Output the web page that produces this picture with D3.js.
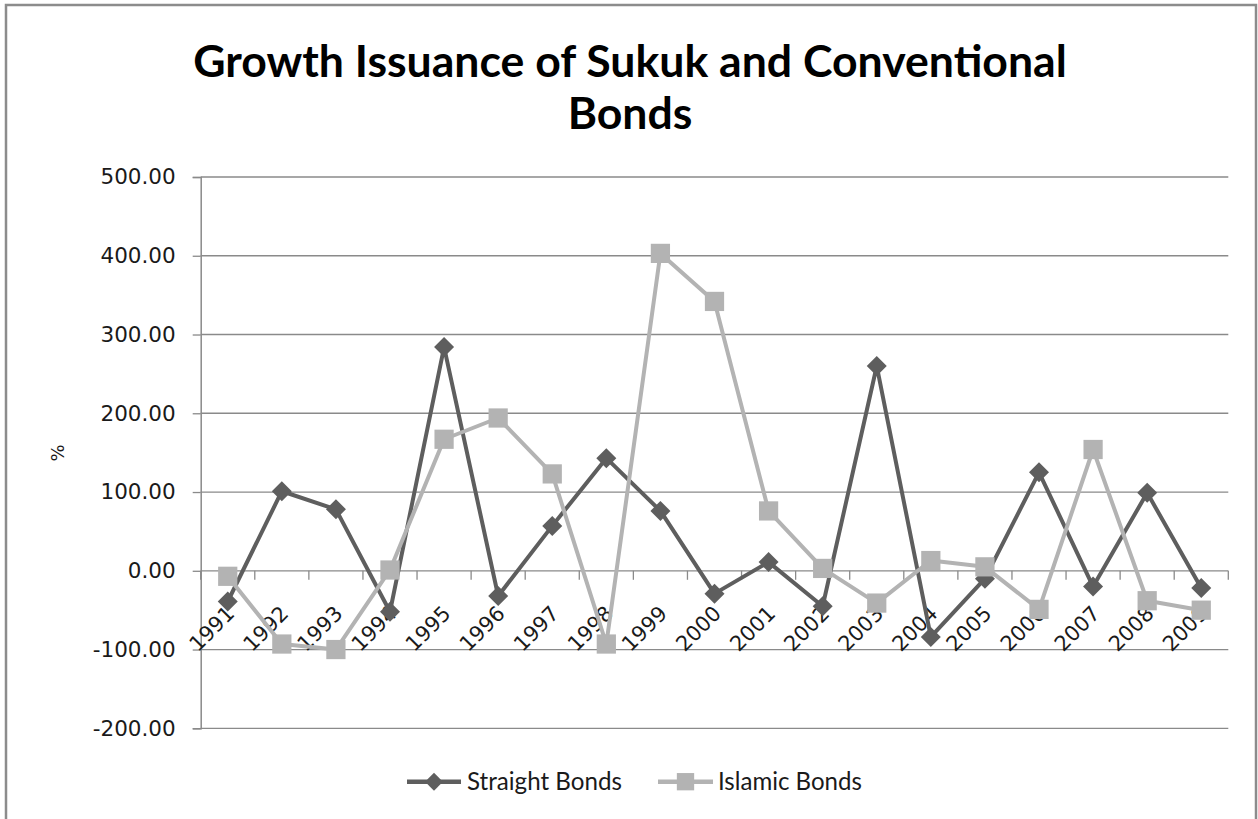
<!DOCTYPE html>
<html><head><meta charset="utf-8">
<script src="https://cdn.jsdelivr.net/npm/d3@7"></script>
<style>body{margin:0;background:#fff;overflow:hidden}</style>
</head><body><svg id="c" width="1258" height="819"></svg>
<script>
const years = ["1991","1992","1993","1994","1995","1996","1997","1998","1999","2000","2001","2002","2003","2004","2005","2006","2007","2008","2009"];
const straightBonds = [-39, 101, 78, -52, 284, -32, 57, 143, 76, -29, 11, -45, 260, -84, -10, 125, -20, 99, -22];
const islamicBonds = [-7, -93, -100, 1, 167, 194, 123, -93, 403, 342, 76, 3, -41, 13, 5, -49, 154, -38, -50];
const yTicks = [-200, -100, 0, 100, 200, 300, 400, 500];
const seriesNames = ["Straight Bonds", "Islamic Bonds"];
const titleLines = ["Growth Issuance of Sukuk and Conventional", "Bonds"];
const yAxisTitle = "%";

const svg = d3.select("#c");
const DARK = "#5e5e5e", LIGHT = "#b3b3b3", GRID = "#8a8a8a";
const plotL = 200.7, plotR = 1228.3, plotT = 177, plotB = 728.3;

svg.append("rect").attr("x", 6).attr("y", 5).attr("width", 1250).attr("height", 830)
  .attr("fill", "#fff").attr("stroke", "#8c8c8c").attr("stroke-width", 2.5);

const x = d3.scaleBand().domain(years).range([plotL, plotR]);
const y = d3.scaleLinear().domain([-200, 500]).range([plotB, plotT]);

// gridlines
svg.append("g").selectAll("line").data(yTicks).join("line")
  .attr("x1", plotL).attr("x2", plotR).attr("y1", d => y(d)).attr("y2", d => y(d))
  .attr("stroke", GRID).attr("stroke-width", 1.3);

// y axis
const yAxis = svg.append("g").attr("transform", `translate(${plotL},0)`)
  .call(d3.axisLeft(y).tickValues(yTicks).tickFormat(d => d.toFixed(2)).tickSize(8).tickPadding(17));
yAxis.select(".domain").attr("stroke", GRID).attr("stroke-width", 1.5);
yAxis.selectAll(".tick line").attr("stroke", GRID).attr("stroke-width", 1.3);
yAxis.selectAll("text").attr("font-family", "DejaVu Sans").attr("font-size", 21.5).attr("fill", "#1a1a1a");

// x axis at zero
const xAxis = svg.append("g").attr("transform", `translate(0,${y(0)})`)
  .call(d3.axisBottom(x).tickSize(0).tickPadding(0));
xAxis.select(".domain").remove();
xAxis.selectAll("text")
  .attr("font-family", "DejaVu Sans").attr("font-size", 21).attr("fill", "#1a1a1a")
  .attr("text-anchor", "end").attr("dy", 0).attr("y", 0)
  .attr("transform", "translate(8,44) rotate(-45)");
svg.append("g").selectAll("line").data(years.concat(["end"])).join("line")
  .attr("x1", d => d === "end" ? plotR : x(d)).attr("x2", d => d === "end" ? plotR : x(d))
  .attr("y1", y(0)).attr("y2", y(0) + 9)
  .attr("stroke", GRID).attr("stroke-width", 1.3);

// y axis title
svg.append("text").attr("transform", "translate(64,453) rotate(-90)")
  .attr("text-anchor", "middle").attr("font-family", "DejaVu Sans").attr("font-size", 18)
  .attr("fill", "#1a1a1a").text(yAxisTitle);

const line = d3.line().x((d, i) => x(years[i]) + x.bandwidth() / 2).y(d => y(d));

function drawSeries(values, color, shape) {
  const g = svg.append("g");
  g.append("path").datum(values).attr("d", line).attr("fill", "none")
    .attr("stroke", color).attr("stroke-width", 4).attr("stroke-linejoin", "round");
  g.selectAll("path.m").data(values).join("path").attr("class", "m")
    .attr("d", d3.symbol().type(d3.symbolSquare).size(shape === "diamond" ? 200 : 370))
    .attr("transform", (d, i) => `translate(${x(years[i]) + x.bandwidth() / 2},${y(d)})` + (shape === "diamond" ? " rotate(45)" : ""))
    .attr("fill", color);
}
drawSeries(straightBonds, DARK, "diamond");
drawSeries(islamicBonds, LIGHT, "square");

// title
function fitText(sel, target) {
  const w = sel.node().getComputedTextLength();
  const fs = parseFloat(sel.attr("font-size"));
  if (w > 0) sel.attr("font-size", fs * target / w);
}
const t1 = svg.append("text").attr("x", 630).attr("y", 77).attr("text-anchor", "middle")
  .attr("font-family", "Lato").attr("font-weight", "bold").attr("font-size", 40).attr("fill", "#000").text(titleLines[0]);
fitText(t1, 874);
svg.append("text").attr("x", 630).attr("y", 129).attr("text-anchor", "middle")
  .attr("font-family", "Lato").attr("font-weight", "bold").attr("font-size", t1.attr("font-size")).attr("fill", "#000").text(titleLines[1]);

// legend
const legendItems = [
  {name: seriesNames[0], color: DARK, shape: "diamond", x1: 407, x2: 461, tx: 467, tw: 155},
  {name: seriesNames[1], color: LIGHT, shape: "square", x1: 658, x2: 713, tx: 718, tw: 144}
];
const lg = svg.append("g");
legendItems.forEach(it => {
  lg.append("line").attr("x1", it.x1).attr("x2", it.x2).attr("y1", 781.7).attr("y2", 781.7)
    .attr("stroke", it.color).attr("stroke-width", 4.5);
  lg.append("path").attr("d", d3.symbol().type(d3.symbolSquare).size(it.shape === "diamond" ? 160 : 300))
    .attr("transform", `translate(${(it.x1 + it.x2) / 2},781.7)` + (it.shape === "diamond" ? " rotate(45)" : ""))
    .attr("fill", it.color);
  const t = lg.append("text").attr("x", it.tx).attr("y", 789.5).attr("font-family", "Lato")
    .attr("font-size", 22).attr("fill", "#1a1a1a").text(it.name);
  fitText(t, it.tw);
});
</script></body></html>
